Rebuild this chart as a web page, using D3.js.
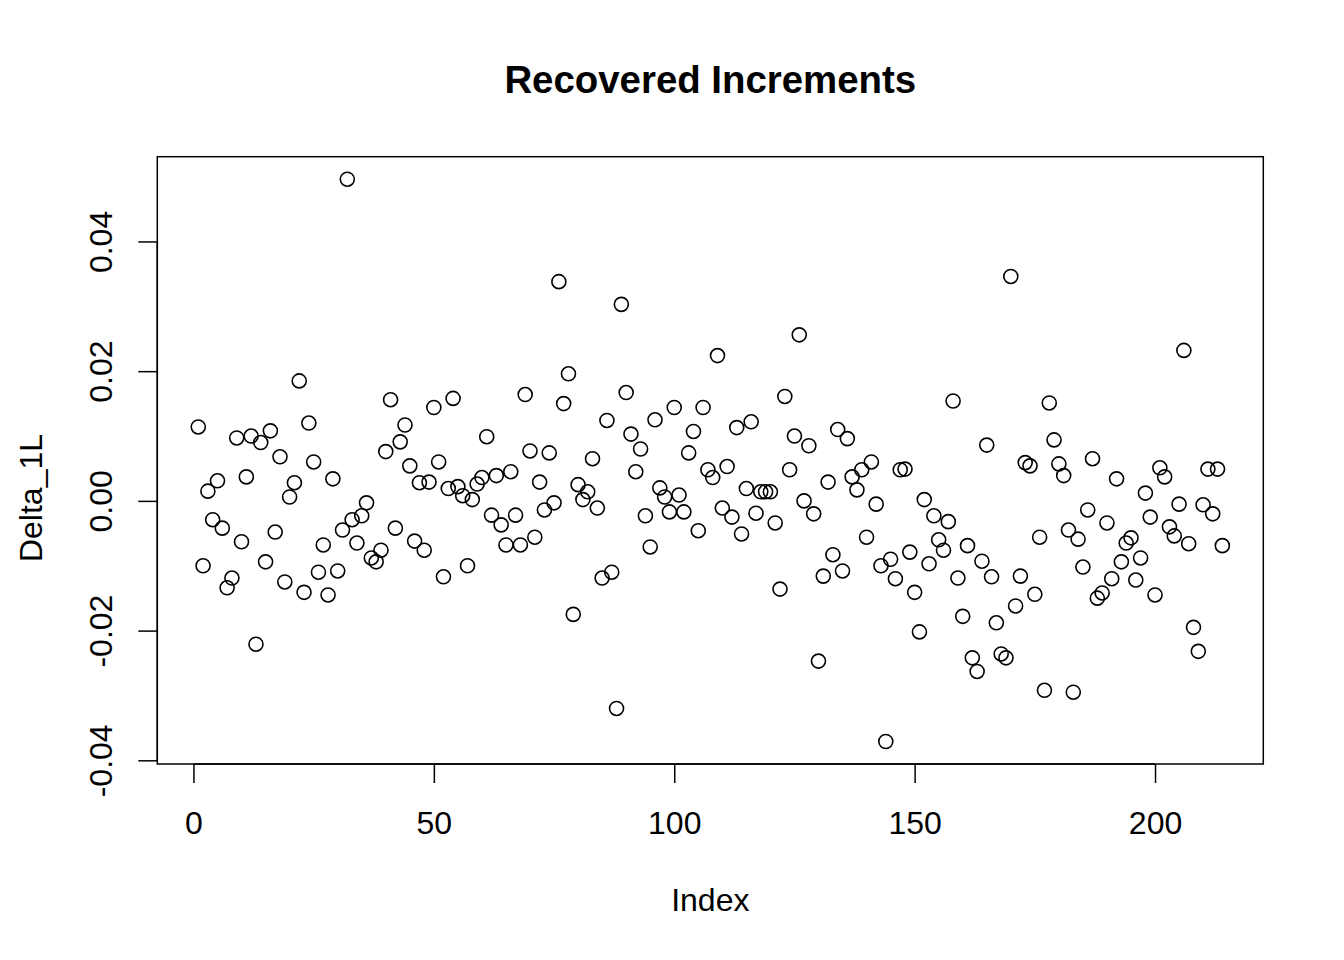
<!DOCTYPE html>
<html>
<head>
<meta charset="utf-8">
<script src="https://cdn.jsdelivr.net/npm/d3@7"></script>
<style>
  html, body { margin: 0; padding: 0; background: #fff; }
  svg { display: block; }
  text { font-family: "Liberation Sans", Arial, Helvetica, sans-serif; fill: #000; }
</style>
</head>
<body>
<svg id="chart" width="1344" height="960"></svg>
<script>
// ---- data ----
const title = "Recovered Increments";
const xLabel = "Index";
const yLabel = "Delta_1L";
const xTicks = [0, 50, 100, 150, 200];
const yTicks = [-0.04, -0.02, 0.00, 0.02, 0.04];
const yTickLabels = ["-0.04", "-0.02", "0.00", "0.02", "0.04"];
const delta = [
  0.0114, -0.0100, 0.0015, -0.0029, 0.0031, -0.0042, -0.0134, -0.0119, 0.0097, -0.0063,
  0.0037, 0.0100, -0.0221, 0.0090, -0.0094, 0.0108, -0.0048, 0.0068, -0.0125, 0.0006,
  0.0028, 0.0185, -0.0141, 0.0120, 0.0060, -0.0110, -0.0068, -0.0145, 0.0034, -0.0108,
  -0.0045, 0.0496, -0.0029, -0.0065, -0.0023, -0.0003, -0.0088, -0.0094, -0.0076, 0.0076,
  0.0156, -0.0042, 0.0091, 0.0117, 0.0054, -0.0062, 0.0028, -0.0076, 0.0029, 0.0144,
  0.0060, -0.0117, 0.0019, 0.0158, 0.0022, 0.0008, -0.0100, 0.0002, 0.0026, 0.0036,
  0.0099, -0.0022, 0.0039, -0.0037, -0.0068, 0.0045, -0.0022, -0.0068, 0.0164, 0.0077,
  -0.0056, 0.0029, -0.0014, 0.0074, -0.0003, 0.0338, 0.0150, 0.0196, -0.0175, 0.0025,
  0.0002, 0.0014, 0.0065, -0.0011, -0.0119, 0.0124, -0.0110, -0.0320, 0.0303, 0.0167,
  0.0103, 0.0045, 0.0080, -0.0023, -0.0071, 0.0125, 0.0020, 0.0006, -0.0017, 0.0144,
  0.0009, -0.0017, 0.0074, 0.0107, -0.0046, 0.0144, 0.0048, 0.0036, 0.0224, -0.0011,
  0.0053, -0.0025, 0.0113, -0.0051, 0.0019, 0.0122, -0.0019, 0.0014, 0.0014, 0.0014,
  -0.0034, -0.0136, 0.0161, 0.0048, 0.0100, 0.0256, 0.0000, 0.0085, -0.0020, -0.0247,
  -0.0116, 0.0029, -0.0083, 0.0110, -0.0108, 0.0096, 0.0037, 0.0017, 0.0048, -0.0056,
  0.0060, -0.0005, -0.0100, -0.0371, -0.0090, -0.0120, 0.0048, 0.0049, -0.0079, -0.0141,
  -0.0202, 0.0002, -0.0097, -0.0023, -0.0060, -0.0076, -0.0032, 0.0154, -0.0119, -0.0178,
  -0.0069, -0.0242, -0.0263, -0.0093, 0.0086, -0.0117, -0.0188, -0.0236, -0.0242, 0.0346,
  -0.0162, -0.0116, 0.0059, 0.0054, -0.0144, -0.0056, -0.0292, 0.0151, 0.0094, 0.0057,
  0.0039, -0.0045, -0.0295, -0.0059, -0.0102, -0.0014, 0.0065, -0.0150, -0.0142, -0.0034,
  -0.0120, 0.0034, -0.0094, -0.0065, -0.0057, -0.0122, -0.0088, 0.0012, -0.0025, -0.0145,
  0.0051, 0.0037, -0.0040, -0.0054, -0.0005, 0.0232, -0.0066, -0.0195, -0.0232, -0.0006,
  0.0049, -0.0020, 0.0049, -0.0069
];

(function () {
  // ---- layout ----
  const W = 1344, H = 960;
  const pL = 157.3, pR = 1263.3, pT = 156.7, pB = 764;
  const points = delta.map((v, i) => ({ i: i + 1, v }));

  const n = delta.length;
  const xPad = 0.04 * (n - 1);
  const x = d3.scaleLinear().domain([1 - xPad, n + xPad]).range([pL, pR]);
  const [ymin, ymax] = d3.extent(delta);
  const yPad = 0.04 * (ymax - ymin);
  const y = d3.scaleLinear().domain([ymin - yPad, ymax + yPad]).range([pB, pT]);

  const svg = d3.select("#chart");
  svg.append("rect").attr("width", W).attr("height", H).attr("fill", "#fff");

  const lw = 1.5;
  const font = "Liberation Sans, Arial, sans-serif";

  // x axis
  const xAxis = d3.axisBottom(x).tickValues(xTicks).tickSize(19).tickPadding(0).tickFormat(d3.format("d"));
  const gx = svg.append("g").attr("transform", `translate(0,${pB})`).call(xAxis);
  gx.select(".domain").attr("d", `M${x(xTicks[0])},0H${x(xTicks[xTicks.length - 1])}`)
    .attr("stroke", "#000").attr("stroke-width", lw);
  gx.selectAll(".tick line").attr("stroke", "#000").attr("stroke-width", lw);
  gx.selectAll(".tick text").attr("font-size", 32).attr("dy", null).attr("y", 70)
    .attr("font-family", font).attr("fill", "#000");

  // y axis
  const yAxis = d3.axisLeft(y).tickValues(yTicks).tickSize(19).tickPadding(0)
    .tickFormat((d, i) => yTickLabels[i]);
  const gy = svg.append("g").attr("transform", `translate(${pL},0)`).call(yAxis);
  gy.select(".domain").attr("d", `M0,${y(yTicks[0])}V${y(yTicks[yTicks.length - 1])}`)
    .attr("stroke", "#000").attr("stroke-width", lw);
  gy.selectAll(".tick line").attr("stroke", "#000").attr("stroke-width", lw);
  gy.selectAll(".tick text")
    .attr("font-size", 32).attr("font-family", font).attr("fill", "#000")
    .attr("x", null).attr("dy", null)
    .attr("text-anchor", "middle")
    .attr("transform", "translate(-45.5,0) rotate(-90)");

  // box
  svg.append("rect").attr("x", pL).attr("y", pT)
    .attr("width", pR - pL).attr("height", pB - pT)
    .attr("fill", "none").attr("stroke", "#000").attr("stroke-width", lw);

  // points
  svg.append("g").selectAll("circle").data(points).join("circle")
    .attr("cx", d => x(d.i)).attr("cy", d => y(d.v)).attr("r", 7)
    .attr("fill", "none").attr("stroke", "#000").attr("stroke-width", 1.6);

  // title
  svg.append("text").attr("x", (pL + pR) / 2).attr("y", 93)
    .attr("text-anchor", "middle").attr("font-size", 38.4).attr("font-weight", "bold").text(title);

  // axis labels
  svg.append("text").attr("x", (pL + pR) / 2).attr("y", 911)
    .attr("text-anchor", "middle").attr("font-size", 32).text(xLabel);
  svg.append("text")
    .attr("transform", `translate(42,498) rotate(-90)`)
    .attr("text-anchor", "middle").attr("font-size", 32).text(yLabel);
})();
</script>
</body>
</html>
